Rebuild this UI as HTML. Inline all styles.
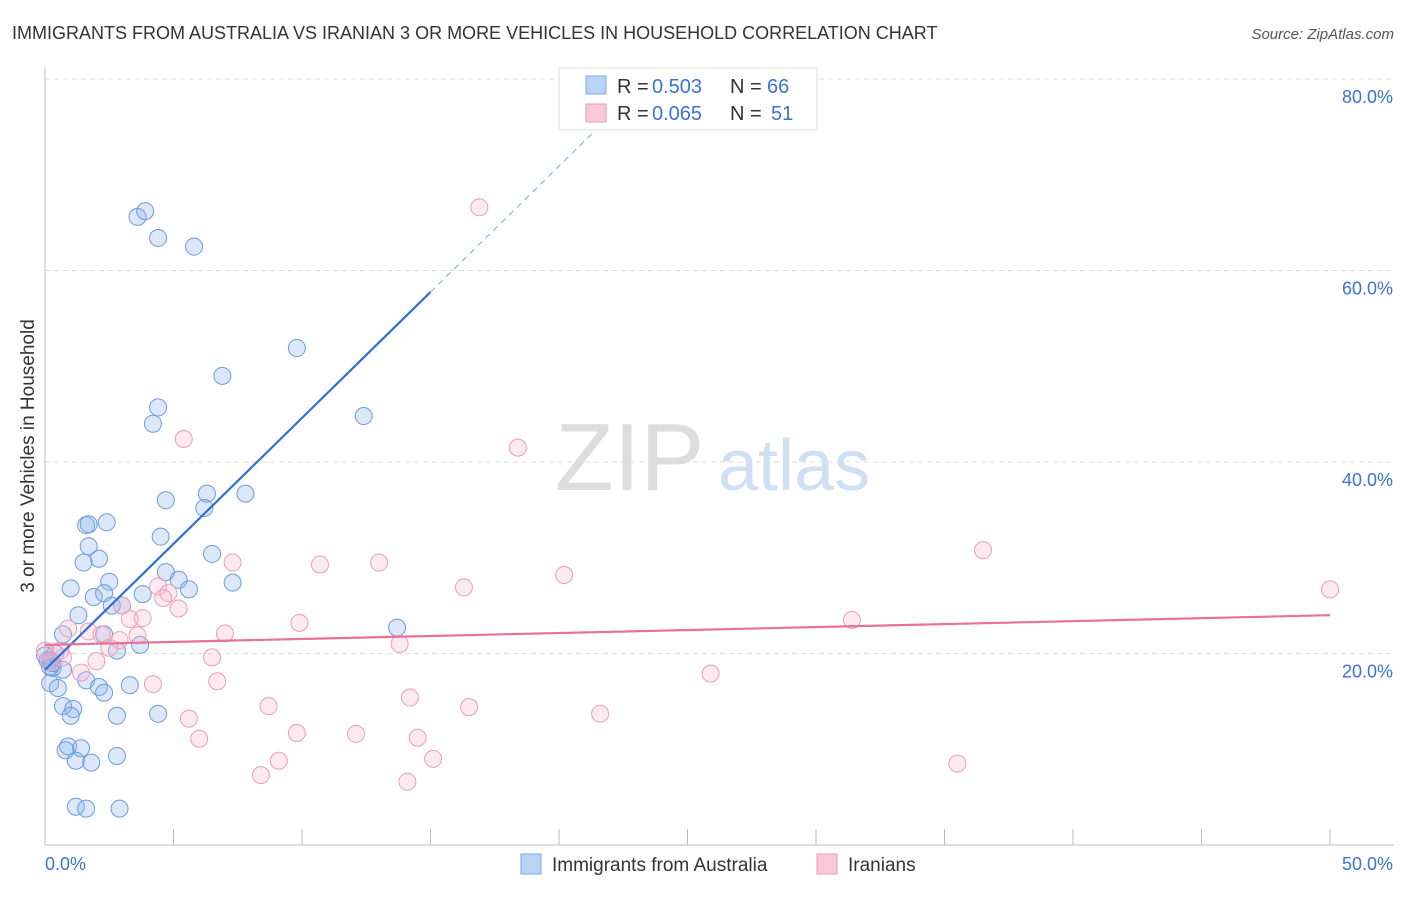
<!DOCTYPE html>
<html><head><meta charset="utf-8"><style>
body{margin:0;background:#fff;font-family:"Liberation Sans",sans-serif;}
svg text{font-family:"Liberation Sans",sans-serif;}
</style></head><body>
<svg id="c" width="1406" height="892">
<text x="12" y="39" font-size="18" fill="#333">IMMIGRANTS FROM AUSTRALIA VS IRANIAN 3 OR MORE VEHICLES IN HOUSEHOLD CORRELATION CHART</text>
<text x="1394" y="39" font-size="15" fill="#555" font-style="italic" text-anchor="end">Source: ZipAtlas.com</text>
<text x="34" y="456" font-size="19" fill="#333" text-anchor="middle" transform="rotate(-90 34 456)">3 or more Vehicles in Household</text>
<text x="555" y="490" font-size="96" fill="#ddd" font-family="Liberation Serif">ZIP</text>
<text x="718" y="490" font-size="72" fill="#cfe0f3">atlas</text>
<g id="grid"></g><g id="axes"></g><g id="pts"></g><g id="lines"></g>
<g>
<rect x="559" y="68" width="258" height="62" fill="#fff" stroke="#ddd"/>
<rect x="586" y="76" width="20" height="18" fill="#b9d3f5" stroke="#7ea9e0"/>
<text x="617" y="93" font-size="20" fill="#333">R =</text>
<text x="652" y="93" font-size="20" fill="#3b73d1">0.503</text>
<text x="730" y="93" font-size="20" fill="#333">N =</text>
<text x="767" y="93" font-size="20" fill="#3b73d1">66</text>
<rect x="586" y="104" width="20" height="18" fill="#f9c9d8" stroke="#eb9ab3"/>
<text x="617" y="120" font-size="20" fill="#333">R =</text>
<text x="652" y="120" font-size="20" fill="#3b73d1">0.065</text>
<text x="730" y="120" font-size="20" fill="#333">N =</text>
<text x="771" y="120" font-size="20" fill="#3b73d1">51</text>
</g>
<g>
<rect x="521" y="854" width="20" height="20" fill="#b9d3f5" stroke="#7ea9e0"/>
<text x="552" y="871" font-size="19" fill="#333">Immigrants from Australia</text>
<rect x="817" y="854" width="20" height="20" fill="#f9c9d8" stroke="#eb9ab3"/>
<text x="848" y="871" font-size="19" fill="#333">Iranians</text>
</g>
</svg>
<script>
const xTicks=[0,5,10,15,20,25,30,35,40,45,50];
const yTicks=[20,40,60,80];
const blueX=[3.6,3.9,4.4,5.8,9.8,6.9,4.4,4.2,12.4,4.7,6.3,6.2,7.8,4.5,1.6,1.7,2.4,1.7,2.1,1.5,6.5,2.5,4.7,5.2,5.6,7.3,1.0,1.9,3.8,2.3,3.0,2.6,1.3,13.7,0.7,2.3,3.7,2.8,0.2,0.4,0.1,0.3,0.7,0.2,0.5,1.6,2.1,2.3,3.3,0.7,1.1,1.0,2.8,4.4,0.9,1.4,0.8,1.2,1.8,2.8,1.2,1.6,2.9,0.2,0.3,0.0];
const blueY=[65.6,66.2,63.4,62.5,51.9,49.0,45.7,44.0,44.8,36.0,36.7,35.2,36.7,32.2,33.4,33.5,33.7,31.2,29.9,29.5,30.4,27.5,28.5,27.7,26.7,27.4,26.8,25.9,26.2,26.3,25.0,25.0,24.0,22.7,22.0,22.0,20.9,20.3,19.3,20.0,19.3,18.5,18.3,16.9,16.4,17.2,16.5,15.9,16.7,14.5,14.2,13.5,13.5,13.7,10.3,10.1,9.9,8.8,8.6,9.3,4.0,3.8,3.8,18.6,19.0,19.8];
const pinkX=[16.9,5.4,18.4,36.5,50.0,7.3,10.7,13.0,16.3,20.2,4.4,4.8,4.6,5.2,3.0,3.3,3.8,0.9,1.7,2.2,2.9,3.6,7.0,9.9,31.4,13.8,0.6,2.5,0.0,0.7,2.0,1.4,6.5,4.2,6.7,25.9,8.7,14.2,16.5,21.6,5.6,6.0,9.8,12.1,14.5,15.1,9.1,8.4,14.1,35.5,0.2];
const pinkY=[66.6,42.4,41.5,30.8,26.7,29.5,29.3,29.5,26.9,28.2,27.0,26.3,25.8,24.7,25.0,23.6,23.7,22.6,22.3,22.0,21.4,21.9,22.1,23.2,23.5,21.0,20.3,20.6,20.3,19.6,19.2,18.0,19.6,16.8,17.1,17.9,14.5,15.4,14.4,13.7,13.2,11.1,11.7,11.6,11.2,9.0,8.8,7.3,6.6,8.5,19.1];
const blueFit=[18.3,2.63]; // intercept, slope per %x
const pinkFit=[20.9,0.062];
const NS="http://www.w3.org/2000/svg";
const X=v=>45+v*25.7, Y=v=>845-v*9.575;
function mk(t,a,p){const e=document.createElementNS(NS,t);for(const k in a)e.setAttribute(k,a[k]);document.getElementById(p).appendChild(e);return e;}
yTicks.forEach(t=>{
 const g=mk('line',{x1:45,x2:1394,y1:Y(t),y2:Y(t),stroke:'#ddd','stroke-dasharray':'5,4'},'grid');
 
 
 const l=mk('text',{x:1393,y:Y(t)+24,'font-size':18,fill:'#3b73d1','text-anchor':'end'},'axes');
 l.textContent=t.toFixed(1)+'%';
 
 
});
const ax=mk('line',{x1:45,x2:1394,y1:845,y2:845,stroke:'#bbb'},'axes');


const ay=mk('line',{x1:45,x2:45,y1:68,y2:845,stroke:'#bbb'},'axes');


xTicks.forEach(t=>{
 const k=mk('line',{x1:X(t),x2:X(t),y1:829,y2:845,stroke:'#bbb'},'axes');
 
 
});
[[0,'0.0%',45,'start'],[50,'50.0%',1393,'end']].forEach(d=>{
 const l=mk('text',{x:d[2],y:870,'font-size':18,fill:'#3b73d1','text-anchor':d[3]},'axes');
 l.textContent=d[1];
 
 
});
blueX.forEach((x,i)=>{
 const c=mk('circle',{cx:X(x),cy:Y(blueY[i]),r:8.5,fill:'rgba(140,180,235,0.3)',stroke:'#6b9be0','stroke-width':1},'pts');
 
 
});
pinkX.forEach((x,i)=>{
 const c=mk('circle',{cx:X(x),cy:Y(pinkY[i]),r:8.5,fill:'rgba(248,185,205,0.3)',stroke:'#ef9db8','stroke-width':1},'pts');
 
 
});
const bf=x=>blueFit[0]+blueFit[1]*x;
const b1=mk('line',{x1:X(0),y1:Y(bf(0)),x2:X(15),y2:Y(bf(15)),stroke:'#2f6fd6','stroke-width':2.2},'lines');


const b2=mk('line',{x1:X(15),y1:Y(bf(15)),x2:X(21.6),y2:Y(bf(21.6)),stroke:'#8fb2e8','stroke-width':1.2,'stroke-dasharray':'6,5'},'lines');


const pf=x=>pinkFit[0]+pinkFit[1]*x;
const p1=mk('line',{x1:X(0),y1:Y(pf(0)),x2:X(50),y2:Y(pf(50)),stroke:'#e8709a','stroke-width':2.2},'lines');


</script>
</body></html>
